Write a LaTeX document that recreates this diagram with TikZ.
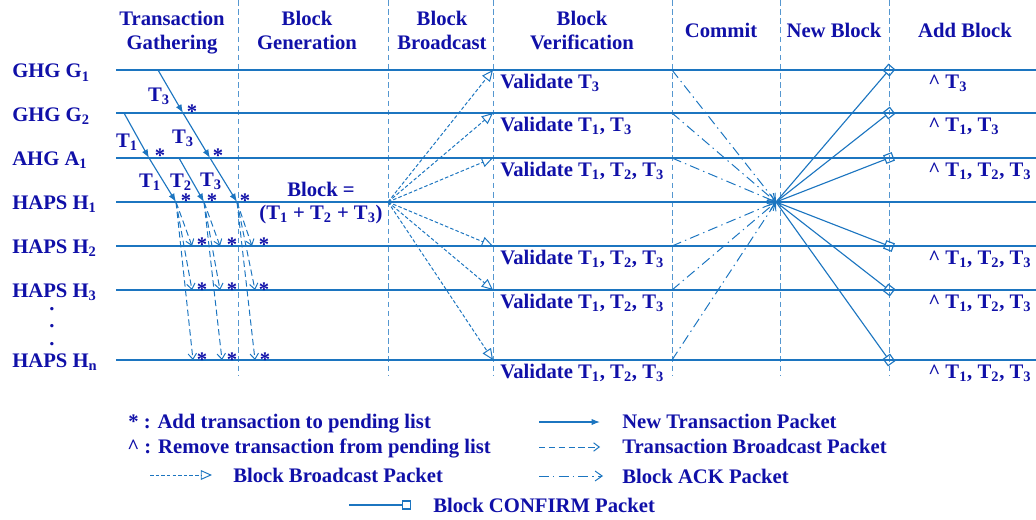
\documentclass[tikz,border=0pt]{standalone}
\usepackage{fontspec}
\setmainfont{Liberation Serif}
\usetikzlibrary{arrows.meta}
\definecolor{lineblue}{RGB}{28,117,192}
\definecolor{textblue}{RGB}{16,16,168}
\newcommand{\Tx}[1]{T\textsubscript{#1}}
\newcommand{\Rm}{\textasciicircum\ }
\tikzset{
	lbl/.style={text=textblue, font=\fontsize{14.7}{17.7}\selectfont\bfseries, inner sep=0pt},
	head/.style={lbl, align=center, anchor=base},
	side/.style={lbl, anchor=base west},
	pend/.style={lbl, anchor=base},
	life/.style={lineblue, line width=1.1pt},
	phase/.style={lineblue!75, line width=0.6pt, dash pattern=on 4pt off 2.5pt},
	newtx/.style={lineblue, line width=0.8pt, -{Latex[length=6pt,width=4.5pt]}},
	txcast/.style={lineblue, line width=0.7pt, dash pattern=on 4.5pt off 2.5pt, -{Straight Barb[length=4pt,width=6pt]}},
	blkcast/.style={lineblue, line width=0.7pt, dash pattern=on 2.5pt off 1.5pt, -{Triangle[open,length=8pt,width=7pt]}},
	blkack/.style={lineblue, line width=0.7pt, dash pattern=on 7pt off 3pt on 1pt off 3pt, -{Straight Barb[length=5pt,width=7pt]}},
	blkconf/.style={lineblue, line width=0.8pt, -{Square[open,length=6.5pt,width=6.5pt]}},
}

\begin{document}
\begin{tikzpicture}[x=0.025cm, y=-0.025cm]
	\useasboundingbox (0,0) rectangle (1036,519);
	%%%%% PHASES %%%%%
	
	\node[head] (hgat) at (172,50) {Transaction\\Gathering};
	\node[head] (hgen) at (307,50) {Block\\Generation};
	\node[head] (hcast) at (442,50) {Block\\Broadcast};
	\node[head] (hver) at (582,50) {Block\\Verification};
	\node[head] (hcom) at (721,38) {Commit};
	\node[head] (hnew) at (834,38) {New Block};
	\node[head] (hadd) at (965,38) {Add Block};
	
	\draw[phase] (238,0) -- (238,376);
	\draw[phase] (388,0) -- (388,376);
	\draw[phase] (493,0) -- (493,376);
	\draw[phase] (672,0) -- (672,376);
	\draw[phase] (780,0) -- (780,376);
	\draw[phase] (889,0) -- (889,376);
	
	%%%%% NODES %%%%%
	
	\node[side] (nG1) at (12,78) {GHG G\textsubscript{1}};
	\node[side] (nG2) at (12,121) {GHG G\textsubscript{2}};
	\node[side] (nA1) at (12,165) {AHG A\textsubscript{1}};
	\node[side] (nH1) at (12,209) {HAPS H\textsubscript{1}};
	\node[side] (nH2) at (12,253) {HAPS H\textsubscript{2}};
	\node[side] (nH3) at (12,297) {HAPS H\textsubscript{3}};
	\node[side] (nHn) at (12,367) {HAPS H\textsubscript{n}};
	\node[head] (dots) at (52,345) {.\\[-5.3pt].\\[-5.3pt].};
	
	\draw[life] (116,70) -- (1036,70);
	\draw[life] (116,113) -- (1036,113);
	\draw[life] (116,158) -- (1036,158);
	\draw[life] (116,202) -- (1036,202);
	\draw[life] (116,246) -- (1036,246);
	\draw[life] (116,290) -- (1036,290);
	\draw[life] (116,360) -- (1036,360);
	
	%%%%% TRANSACTION GATHERING %%%%%
	
	\coordinate (g1a) at (158,70);
	\coordinate (g2a) at (124,113);
	\coordinate (g2b) at (183,113);
	\coordinate (a1a) at (149,158);
	\coordinate (a1b) at (179,158);
	\coordinate (a1c) at (210,158);
	\coordinate (h1a) at (176,202);
	\coordinate (h1b) at (204,202);
	\coordinate (h1c) at (237,202);
	
	\draw[newtx] (g1a) -- (g2b);
	\draw[newtx] (g2a) -- (a1a);
	\draw[newtx] (g2b) -- (a1c);
	\draw[newtx] (a1a) -- (h1a);
	\draw[newtx] (a1b) -- (h1b);
	\draw[newtx] (a1c) -- (h1c);
	
	\node[pend] (t3a) at (159,101) {\Tx{3}};
	\node[pend] (t1a) at (127,147) {\Tx{1}};
	\node[pend] (t3b) at (183,143) {\Tx{3}};
	\node[pend] (t1b) at (150,187) {\Tx{1}};
	\node[pend] (t2b) at (181,187) {\Tx{2}};
	\node[pend] (t3c) at (211,186) {\Tx{3}};
	
	\node[pend] (sG2) at (192,118) {*};
	\node[pend] (sA1a) at (160,162) {*};
	\node[pend] (sA1b) at (218,162) {*};
	\node[pend] (sH1a) at (186,207) {*};
	\node[pend] (sH1b) at (212,207) {*};
	\node[pend] (sH1c) at (245,207) {*};
	
	\coordinate (h2a) at (192,246);
	\coordinate (h2b) at (220,246);
	\coordinate (h2c) at (252,246);
	\coordinate (h3a) at (192,290);
	\coordinate (h3b) at (220,290);
	\coordinate (h3c) at (255,290);
	\coordinate (hna) at (193,360);
	\coordinate (hnb) at (222,360);
	\coordinate (hnc) at (255,360);
	
	\draw[txcast] (h1a) -- (h2a);
	\draw[txcast] (h1a) -- (h3a);
	\draw[txcast] (h1a) -- (hna);
	\draw[txcast] (h1b) -- (h2b);
	\draw[txcast] (h1b) -- (h3b);
	\draw[txcast] (h1b) -- (hnb);
	\draw[txcast] (h1c) -- (h2c);
	\draw[txcast] (h1c) -- (h3c);
	\draw[txcast] (h1c) -- (hnc);
	
	\node[pend] (sH2a) at (202,251) {*};
	\node[pend] (sH2b) at (232,251) {*};
	\node[pend] (sH2c) at (264,251) {*};
	\node[pend] (sH3a) at (202,296) {*};
	\node[pend] (sH3b) at (232,296) {*};
	\node[pend] (sH3c) at (264,296) {*};
	\node[pend] (sHna) at (202,366) {*};
	\node[pend] (sHnb) at (232,366) {*};
	\node[pend] (sHnc) at (265,366) {*};
	
	%%%%% BLOCK %%%%%
	
	\node[head] (blk) at (321,219) {Block =\\[-1.5pt](\Tx{1} + \Tx{2} + \Tx{3})};
	
	\coordinate (bb) at (388,202);
	\coordinate (vG1) at (493,70);
	\coordinate (vG2) at (493,113);
	\coordinate (vA1) at (493,158);
	\coordinate (vH2) at (493,246);
	\coordinate (vH3) at (493,290);
	\coordinate (vHn) at (493,360);
	
	\draw[blkcast] (bb) -- (vG1);
	\draw[blkcast] (bb) -- (vG2);
	\draw[blkcast] (bb) -- (vA1);
	\draw[blkcast] (bb) -- (vH2);
	\draw[blkcast] (bb) -- (vH3);
	\draw[blkcast] (bb) -- (vHn);
	
	\node[side] (valG1) at (500,88) {Validate \Tx{3}};
	\node[side] (valG2) at (500,131) {Validate \Tx{1}, \Tx{3}};
	\node[side] (valA1) at (500,176) {Validate \Tx{1}, \Tx{2}, \Tx{3}};
	\node[side] (valH2) at (500,264) {Validate \Tx{1}, \Tx{2}, \Tx{3}};
	\node[side] (valH3) at (500,308) {Validate \Tx{1}, \Tx{2}, \Tx{3}};
	\node[side] (valHn) at (500,378) {Validate \Tx{1}, \Tx{2}, \Tx{3}};
	
	%%%%% COMMIT AND ADD %%%%%
	
	\coordinate (cG1) at (672,70);
	\coordinate (cG2) at (672,113);
	\coordinate (cA1) at (672,158);
	\coordinate (cH2) at (672,246);
	\coordinate (cH3) at (672,290);
	\coordinate (cHn) at (672,360);
	\coordinate (nb) at (776,202);
	
	\draw[blkack] (cG1) -- (nb);
	\draw[blkack] (cG2) -- (nb);
	\draw[blkack] (cA1) -- (nb);
	\draw[blkack] (cH2) -- (nb);
	\draw[blkack] (cH3) -- (nb);
	\draw[blkack] (cHn) -- (nb);
	
	\coordinate (aG1) at (889,70);
	\coordinate (aG2) at (889,113);
	\coordinate (aA1) at (889,158);
	\coordinate (aH2) at (889,246);
	\coordinate (aH3) at (889,290);
	\coordinate (aHn) at (889,360);
	
	\draw[blkconf, shorten >=-3.25pt] (nb) -- (aG1);
	\draw[blkconf, shorten >=-3.25pt] (nb) -- (aG2);
	\draw[blkconf, shorten >=-3.25pt] (nb) -- (aA1);
	\draw[blkconf, shorten >=-3.25pt] (nb) -- (aH2);
	\draw[blkconf, shorten >=-3.25pt] (nb) -- (aH3);
	\draw[blkconf, shorten >=-3.25pt] (nb) -- (aHn);
	
	\node[side] (rmG1) at (928,88) {\Rm\Tx{3}};
	\node[side] (rmG2) at (928,131) {\Rm\Tx{1}, \Tx{3}};
	\node[side] (rmA1) at (928,176) {\Rm\Tx{1}, \Tx{2}, \Tx{3}};
	\node[side] (rmH2) at (928,264) {\Rm\Tx{1}, \Tx{2}, \Tx{3}};
	\node[side] (rmH3) at (928,308) {\Rm\Tx{1}, \Tx{2}, \Tx{3}};
	\node[side] (rmHn) at (928,378) {\Rm\Tx{1}, \Tx{2}, \Tx{3}};
	
	%%%%% LEGEND %%%%%
	
	\node[side] (lgadd) at (128,428) {* : Add transaction to pending list};
	\node[side] (lgrm) at (127,453) {\textasciicircum\ : Remove transaction from pending list};
	
	\coordinate (lbA) at (150,475);
	\coordinate (lbB) at (212,475);
	\draw[blkcast] (lbA) -- (lbB);
	\node[side] (lgcast) at (233,482) {Block Broadcast Packet};
	
	\coordinate (lcA) at (349,505);
	\coordinate (lcB) at (411,505);
	\draw[blkconf] (lcA) -- (lcB);
	\node[side] (lgconf) at (433,512) {Block CONFIRM Packet};
	
	\coordinate (lnA) at (539,422);
	\coordinate (lnB) at (600,422);
	\draw[newtx] (lnA) -- (lnB);
	\node[side] (lgnew) at (622,428) {New Transaction Packet};
	
	\coordinate (ltA) at (539,447);
	\coordinate (ltB) at (600,447);
	\draw[txcast] (ltA) -- (ltB);
	\node[side] (lgtx) at (622,453) {Transaction Broadcast Packet};
	
	\coordinate (laA) at (539,476);
	\coordinate (laB) at (603,476);
	\draw[blkack] (laA) -- (laB);
	\node[side] (lgack) at (622,483) {Block ACK Packet};
	
\end{tikzpicture}
\end{document}
